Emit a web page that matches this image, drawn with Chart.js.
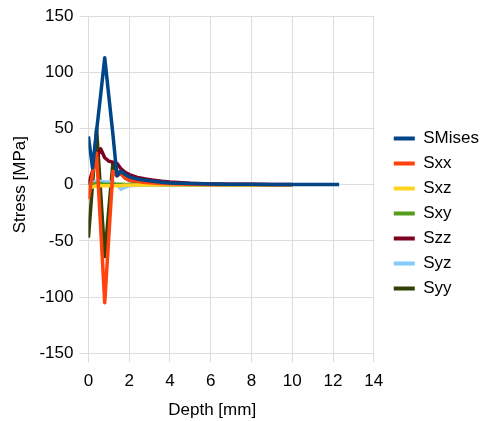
<!DOCTYPE html>
<html>
<head>
<meta charset="utf-8">
<script src="https://cdn.jsdelivr.net/npm/chart.js@4.4.0/dist/chart.umd.min.js"></script>
<style>
  html, body { margin: 0; padding: 0; background: #fff; }
  #wrap { width: 487px; height: 421px; }
</style>
</head>
<body>
<div id="wrap"><canvas id="myChart" width="487" height="421"></canvas></div>
<script>
const depth  = [0, 0.2, 0.4, 0.6, 0.8, 1.0, 1.2, 1.4, 1.6, 1.8, 2.0, 2.4, 2.8, 3.2, 3.6, 4.0, 5, 6, 7, 8, 9, 10, 11, 12.3];
const sMises = [43, 15, 48, 80, 113, 79, 45, 8, 12, 9, 7, 5, 4, 3, 2.2, 1.6, 1, 0.6, 0.4, 0.3, 0.2, 0.1, 0.1, 0.1];
const sxx    = [-13, 10, 28, -38, -105, -46, 12, 8, 10, 6, 4, 3, 2, 1.5, 1, 0.8, 0.4, 0.2, 0.1, 0.1, 0, 0, null, null];
const sxz    = [-2, -2, -1, -1, -1, -1, -1, -1, -1, -0.5, -0.5, -0.3, -0.2, -0.2, -0.1, -0.1, 0, 0, 0, 0, 0, 0, null, null];
const sxy    = [0, 0.5, 1, 1, 0.5, 0.5, 0.5, 0.3, 0.3, 0.2, 0.2, 0.1, 0.1, 0.1, 0, 0, 0, 0, 0, 0, 0, 0, null, null];
const szz    = [0, 12, 24, 32, 24, 21, 20, 19, 14, 11, 9, 6.5, 5, 4, 3, 2.3, 1.2, 0.7, 0.4, 0.3, 0.2, 0.1, null, null];
const syz    = [0, 2, 3, 3, 2.5, 2.5, 2, 0, -4, -2, -1, -0.5, -0.3, -0.2, -0.1, 0, 0, 0, 0, 0, 0, 0, null, null];
const syy    = [-47, 0, 50, -7, -64, -22, 19, 12, 10, 6, 4, 2.5, 1.5, 1, 0.7, 0.5, 0.2, 0.1, 0, 0, 0, 0, null, null];

const names  = ['SMises', 'Sxx', 'Sxz', 'Sxy', 'Szz', 'Syz', 'Syy'];
const series = [sMises, sxx, sxz, sxy, szz, syz, syy];
const colors = ['#004586', '#ff420e', '#ffd320', '#579d1c', '#7e0021', '#83caff', '#314004'];

const yTicks = [-150, -100, -50, 0, 50, 100, 150];
const xTicks = [0, 2, 4, 6, 8, 10, 12, 14];

Chart.defaults.font.family = '"Liberation Sans", Arial, sans-serif';
Chart.defaults.font.size = 17;
Chart.defaults.color = '#000';

function puntos(vals) {
  return depth.map((d, i) => ({ x: d, y: vals[i] }));
}

// deja hueco entre el area del grafico y la leyenda
const huecoLeyenda = {
  id: 'huecoLeyenda',
  beforeLayout(chart) {
    const lg = chart.legend;
    if (lg && !lg._hueco) {
      const fit = lg.fit;
      lg.fit = function () { fit.call(this); this.width += 10; };
      lg._hueco = true;
    }
  },
  afterLayout(chart) {
    const lg = chart.legend;
    if (lg) { lg.left += 12; lg.width -= 12; }
  }
};

const ctx = document.getElementById('myChart');

new Chart(ctx, {
  type: 'line',
  data: {
    datasets: names.map((n, i) => ({
      label: n,
      data: puntos(series[i]),
      borderColor: colors[i],
      backgroundColor: colors[i],
      borderWidth: 3.5,
      borderJoinStyle: 'round',
      pointRadius: 0,
      tension: 0,
      spanGaps: false
    }))
  },
  options: {
    responsive: false,
    animation: false,
    layout: { padding: { left: 2, right: 0, top: 6, bottom: 0 } },
    plugins: {
      tooltip: { enabled: false },
      legend: {
        position: 'right',
        labels: {
          boxWidth: 21,
          boxHeight: 4,
          padding: 8,
          generateLabels: chart => {
            const items = Chart.defaults.plugins.legend.labels.generateLabels(chart);
            items.forEach(it => { it.lineWidth = 0; });
            return items;
          }
        }
      }
    },
    scales: {
      x: {
        type: 'linear',
        min: 0,
        max: 14,
        afterBuildTicks: s => { s.ticks = xTicks.map(v => ({ value: v })); },
        grid: { color: '#dddddd', tickLength: 9 },
        border: { color: '#dddddd' },
        ticks: { padding: 9 },
        title: { display: true, text: 'Depth [mm]        ', padding: { top: 0, bottom: 0 } }
      },
      y: {
        type: 'linear',
        min: -150,
        max: 150,
        afterBuildTicks: s => { s.ticks = yTicks.map(v => ({ value: v })); },
        grid: { color: '#dddddd', tickLength: 9 },
        border: { color: '#dddddd' },
        ticks: { padding: 6 },
        title: { display: true, text: 'Stress [MPa]', padding: { top: 8, bottom: 3 } }
      }
    }
  },
  plugins: [huecoLeyenda]
});
</script>
</body>
</html>
